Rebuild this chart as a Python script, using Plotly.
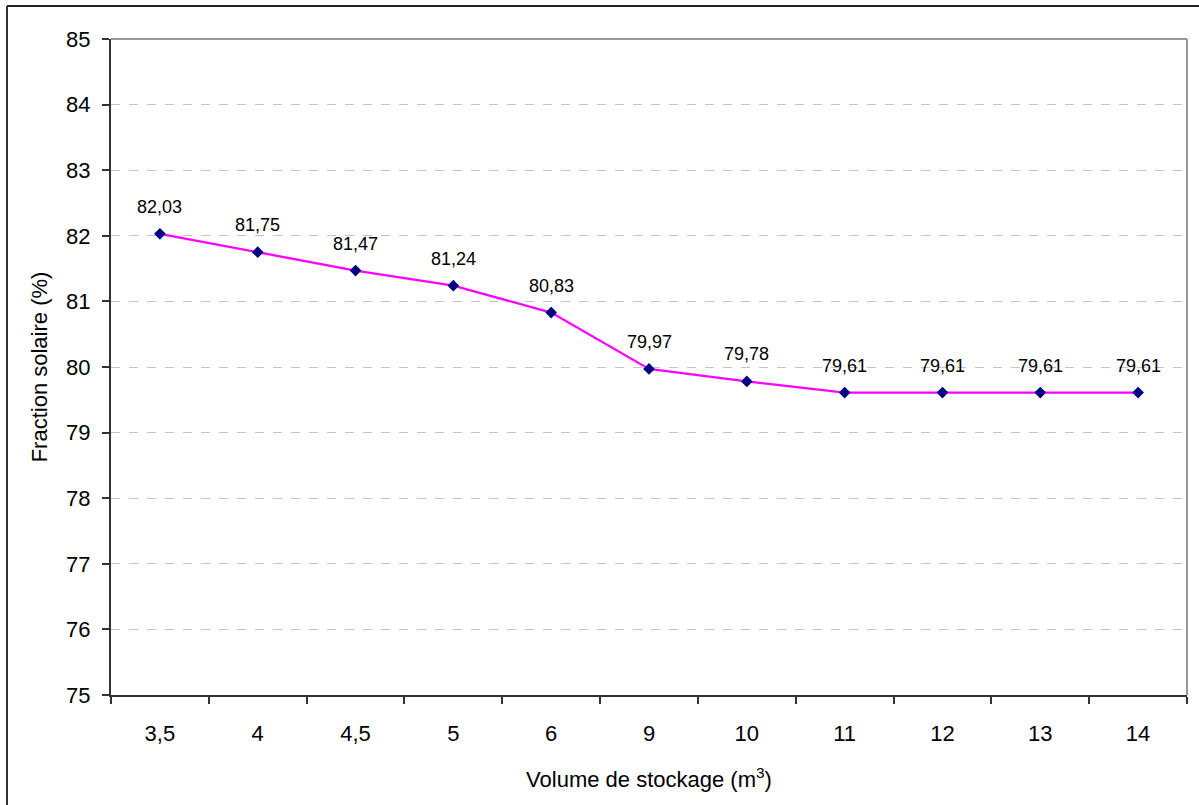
import plotly.graph_objects as go

categories = ["3,5", "4", "4,5", "5", "6", "9", "10", "11", "12", "13", "14"]
fraction_solaire = [82.03, 81.75, 81.47, 81.24, 80.83, 79.97, 79.78, 79.61, 79.61, 79.61, 79.61]
y_ticks = list(range(75, 86))

W, H = 1199, 805
ML, MR, MT, MB = 111, 12, 39, 110
PW, PH = W - ML - MR, H - MT - MB

def px_x(p):
    return (p - ML) / PW

def px_y(p):
    return (H - MB - p) / PH

FONT = "Liberation Sans, Arial, sans-serif"

fig = go.Figure()
fig.add_trace(go.Scatter(
    x=categories, y=fraction_solaire, mode="lines+markers",
    line=dict(color="#FF00FF", width=2.3),
    marker=dict(symbol="diamond", size=9, color="#000080", line=dict(width=0)),
    hoverinfo="x+y", showlegend=False,
))

for i, v in enumerate(fraction_solaire):
    fig.add_annotation(x=i, y=v, text=f"{v:.2f}".replace(".", ","), showarrow=False,
                       yshift=27, font=dict(size=18, color="#000", family=FONT))

fig.update_layout(
    width=W, height=H,
    margin=dict(l=ML, r=MR, t=MT, b=MB, pad=0),
    paper_bgcolor="white", plot_bgcolor="white",
    font=dict(family=FONT, color="#000"),
    xaxis=dict(
        type="category", tickson="boundaries", ticks="outside", ticklen=7,
        tickwidth=1.5, tickcolor="#333", showline=True, linecolor="#333", linewidth=2,
        showgrid=False, tickfont=dict(size=22), ticklabelstandoff=18,
        title=dict(text="Volume de stockage (m<sup>3</sup>)", font=dict(size=22), standoff=26),
        range=[-0.5, len(categories) - 0.5], automargin=False,
    ),
    yaxis=dict(
        range=[75, 85], tickvals=y_ticks, ticks="outside", ticklen=7, tickwidth=1.5,
        tickcolor="#333", showline=True, linecolor="#333", linewidth=2,
        showgrid=True, gridcolor="#c4c4c4", gridwidth=1, griddash="dash",
        tickfont=dict(size=22), ticklabelstandoff=7, zeroline=False,
        title=dict(text="Fraction solaire (%)", font=dict(size=22), standoff=12),
        automargin=False,
    ),
)

# plot area top/right border (grey)
fig.add_shape(type="line", xref="paper", yref="paper", x0=0, x1=1, y0=1, y1=1,
              line=dict(color="#999", width=2))
fig.add_shape(type="line", xref="paper", yref="paper", x0=1, x1=1, y0=0, y1=1,
              line=dict(color="#999", width=2))
# outer chart frame (top & left visible)
fig.add_shape(type="line", xref="paper", yref="paper", x0=px_x(7), x1=px_x(1205),
              y0=px_y(6), y1=px_y(6), line=dict(color="#222", width=2))
fig.add_shape(type="line", xref="paper", yref="paper", x0=px_x(7), x1=px_x(7),
              y0=px_y(6), y1=px_y(810), line=dict(color="#333", width=2))

fig.write_html("out.html")
